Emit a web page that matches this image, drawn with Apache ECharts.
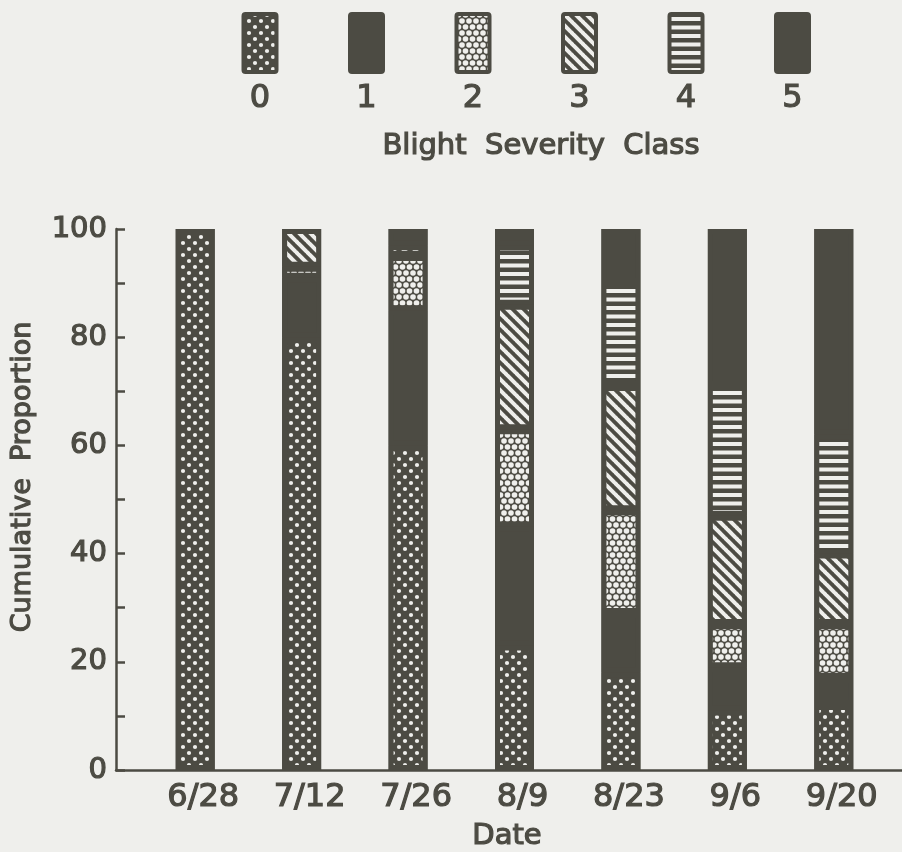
<!DOCTYPE html>
<html>
<head>
<meta charset="utf-8">
<script src="https://cdn.jsdelivr.net/npm/echarts@6/dist/echarts.min.js"></script>
<style>
  html, body { margin: 0; padding: 0; background: #efefec; }
  #chart { width: 902px; height: 852px; }
</style>
</head>
<body>
<div id="chart"></div>
<script>
// Sampling dates and blight severity classes
const dates = ['6/28', '7/12', '7/26', '8/9', '8/23', '9/6', '9/20'];
const classes = ['0', '1', '2', '3', '4', '5'];

// Percentage of plants in each severity class per date (stacked to 100)
const class0 = [100, 80, 60, 23, 18, 11, 12];
const class1 = [0, 11, 25, 22, 11, 8, 5];
const class2 = [0, 2, 10, 18, 19, 8, 10];
const class3 = [0, 7, 2, 23, 23, 20, 13];
const class4 = [0, 0, 0, 11, 19, 24, 22];
const class5 = [0, 0, 3, 3, 10, 29, 38];

const yLabelStep = 20;

const INK = '#4c4b43';
const PAPER = '#efefec';
const FONT = '"DejaVu Sans", "Liberation Sans", sans-serif';

function tile(w, h, draw) {
  const c = document.createElement('canvas');
  c.width = w; c.height = h;
  const g = c.getContext('2d');
  g.fillStyle = INK;
  g.fillRect(0, 0, w, h);
  g.fillStyle = PAPER;
  g.strokeStyle = PAPER;
  draw(g, w, h);
  return { image: c, repeat: 'repeat' };
}

// class 0: white dots on ink
const dotFill = tile(12, 12, g => {
  [[3, 3], [9, 9]].forEach(([x, y]) => {
    g.beginPath(); g.arc(x, y, 2.1, 0, Math.PI * 2); g.fill();
  });
});
// class 2: packed white circles
const circleFill = tile(7, 12, g => {
  [[3.5, 3], [0, 9], [7, 9]].forEach(([x, y]) => {
    g.beginPath(); g.arc(x, y, 2.8, 0, Math.PI * 2); g.fill();
  });
});
// class 3: diagonal white stripes
const diagFill = tile(11, 11, g => {
  g.lineWidth = 4;
  for (let k = -1; k <= 1; k++) {
    g.beginPath(); g.moveTo(k * 11 - 1, -1); g.lineTo(k * 11 + 12, 12); g.stroke();
  }
});
// class 4: horizontal white stripes
const horizFill = tile(8, 17, g => {
  g.fillRect(0, 0, 8, 4);
  g.fillRect(0, 8.5, 8, 4);
});

const fills = [dotFill, INK, circleFill, diagFill, horizFill, INK];
const values = [class0, class1, class2, class3, class4, class5];

const BAR_W = 39;

const series = classes.map((name, i) => ({
  name: name,
  type: 'bar',
  stack: 'total',
  xAxisIndex: 1,
  yAxisIndex: 1,
  barWidth: BAR_W,
  // ink under the whole column so stacked segments join without seams
  showBackground: i === 0,
  backgroundStyle: { color: INK },
  itemStyle: { color: fills[i], borderColor: INK, borderWidth: 5 },
  emphasis: { disabled: true },
  data: values[i].map(v => (v === 0 ? '-' : v))
}));

// heavier strokes for axis label text
const bold = { textBorderColor: INK, textBorderWidth: 1.2 };

function label(text, x, y, size, extra) {
  return Object.assign({
    type: 'text',
    x: x, y: y,
    style: {
      text: text, fill: INK, stroke: INK, lineWidth: 1.2,
      font: size + 'px ' + FONT, textAlign: 'center', textVerticalAlign: 'middle'
    }
  }, extra || {});
}

// legend swatches with class numbers underneath
const legendGraphics = [];
classes.forEach((name, i) => {
  const cx = 260 + i * 106.5;
  legendGraphics.push({
    type: 'rect',
    shape: { x: cx - 16.5, y: 14, width: 33, height: 58, r: 2 },
    style: { fill: fills[i], stroke: INK, lineWidth: 4 }
  });
  legendGraphics.push(label(name, cx, 99, 32));
});
legendGraphics.push(label('Blight  Severity  Class', 541, 146, 29));
legendGraphics.push(label('Cumulative  Proportion', 23, 477, 27, { rotation: Math.PI / 2 }));
legendGraphics.push(label('Date', 507, 836, 29));

const chart = echarts.init(document.getElementById('chart'), null, { renderer: 'canvas' });
chart.setOption({
  backgroundColor: PAPER,
  animation: false,
  grid: [
    { left: 116, right: 0, top: 229, height: 541 },
    { left: 142, right: 15, top: 229, height: 541 }
  ],
  xAxis: [
    {
      gridIndex: 0, type: 'value', min: 0, max: 1,
      axisLine: { show: true, lineStyle: { color: INK, width: 2.5 } },
      axisTick: { show: false }, axisLabel: { show: false }, splitLine: { show: false }
    },
    {
      gridIndex: 1, type: 'category', data: dates,
      axisLine: { show: false }, axisTick: { show: false },
      axisLabel: Object.assign({ color: INK, fontFamily: FONT, fontSize: 32, margin: 12, padding: [0, 0, 0, 16] }, bold)
    }
  ],
  yAxis: [
    {
      gridIndex: 0, type: 'value', min: 0, max: 100, interval: 10,
      axisLine: { show: true, lineStyle: { color: INK, width: 2.5 } },
      axisTick: { show: true, inside: true, length: 9, lineStyle: { color: INK, width: 2.5 } },
      axisLabel: Object.assign({
        color: INK, fontFamily: FONT, fontSize: 29, margin: 9,
        formatter: v => (v % yLabelStep === 0 ? String(v) : '')
      }, bold),
      splitLine: { show: false }
    },
    {
      gridIndex: 1, type: 'value', min: 0, max: 100, show: false
    }
  ],
  series: series,
  graphic: legendGraphics
});
</script>
</body>
</html>
